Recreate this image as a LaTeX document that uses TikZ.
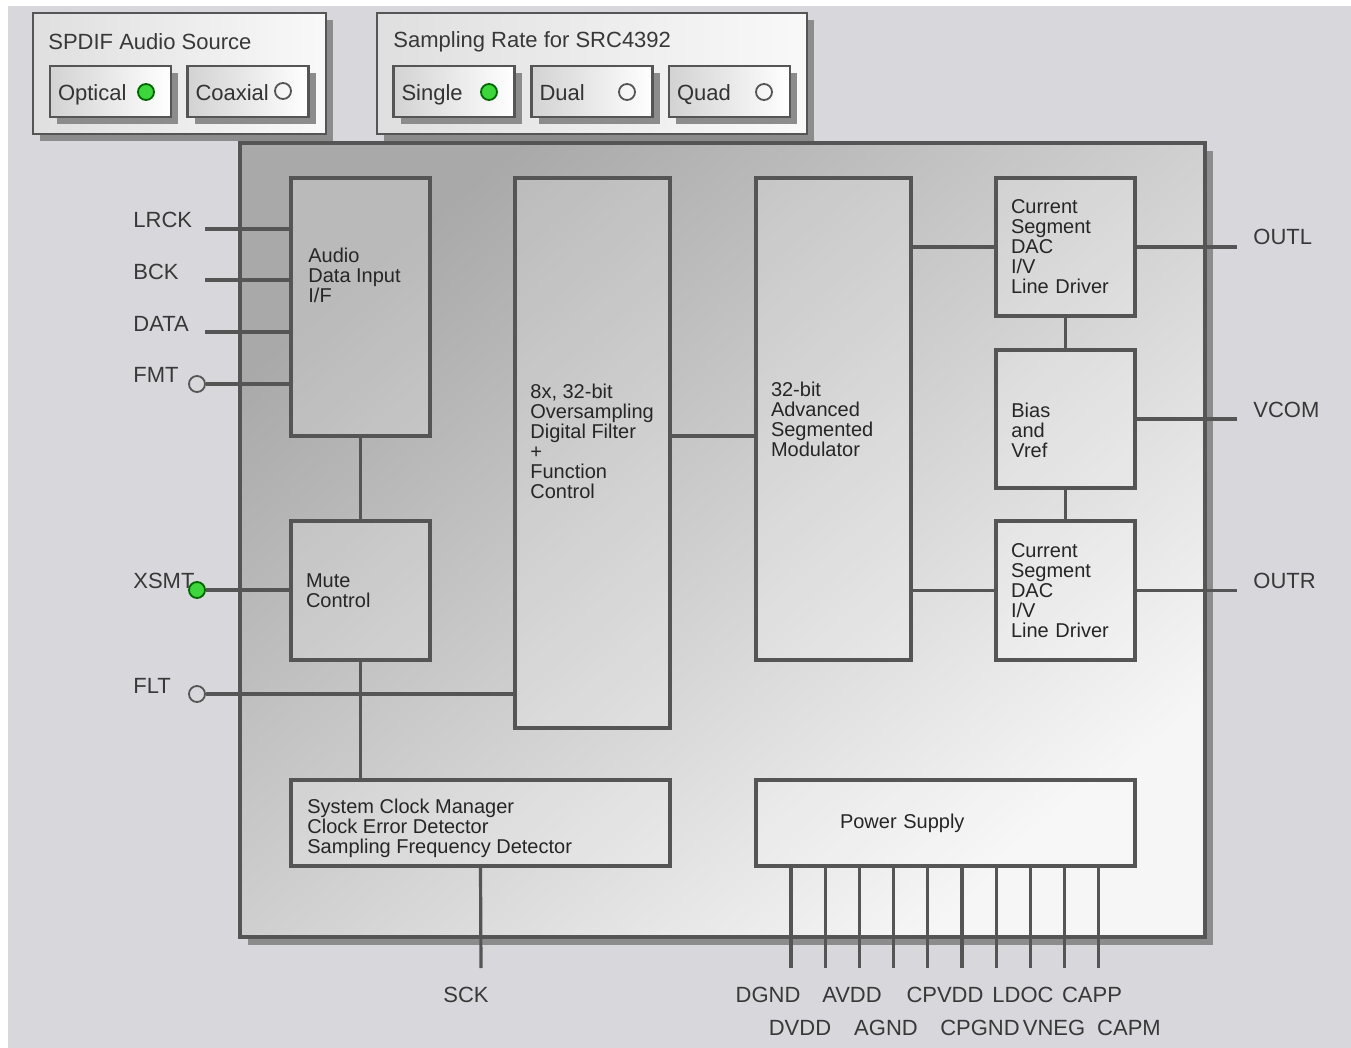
\documentclass[tikz,border=0pt]{standalone}
\usepackage{fontspec}
\setmainfont{Liberation Sans}
\usetikzlibrary{positioning,shadows}
\definecolor{bgray}{HTML}{D8D7DC}
\definecolor{wirec}{HTML}{555555}
\definecolor{ledon}{HTML}{3DD63D}
\definecolor{chipTL}{HTML}{A9A9A9}
\definecolor{chipBR}{HTML}{F6F6F6}

\begin{document}
\begin{tikzpicture}[x=0.5pt, y=-0.5pt,
		wire/.style={draw=wirec, line width=1.6pt},
		blk/.style={wire, fill=white, fill opacity=0.2, text opacity=1, text=black!85,
			align=left, inner xsep=7.5pt, font=\fontsize{10}{10}\selectfont},
		txt/.style={text=black!85, align=left, inner sep=0pt, font=\fontsize{10}{10}\selectfont},
		pin/.style={text=black!78, inner sep=0pt, font=\fontsize{11}{11}\selectfont},
		led/.style={circle, draw=wirec, line width=0.9pt, minimum size=8pt, inner sep=0pt, fill=bgray},
		ledon/.style={led, draw=green!40!black, fill=ledon},
		shd/.style={drop shadow={shadow xshift=3.5pt, shadow yshift=-3.5pt, fill=black!45, opacity=1}},
		panel/.style={wire, line width=1.3pt, left color=gray!25, right color=gray!5, shd},
		btn/.style={wire, line width=1.3pt, left color=gray!35, right color=white, shd,
			minimum height=25.5pt, text width=52.5pt, text height=10pt, text depth=1pt,
			inner xsep=4pt, align=left, text=black!80, font=\fontsize{11}{11}\selectfont}]
	\useasboundingbox (0,0) rectangle (1351,1048);
	\fill[white] (0,0) rectangle (1351,1048);
	\fill[bgray] (8,6) rectangle (1351,1048);

	% option panels
	\node[panel, minimum width=146.5pt, minimum height=60.5pt] (spdif) at (179.5,73.5) {};
	\node[pin, anchor=west] (spdiftitle) at (48,42) {SPDIF Audio Source};
	\node[btn, minimum width=60.5pt] (optical) at (110.5,91.5) {Optical};
	\node[btn, minimum width=60pt] (coaxial) at (248,91.5) {Coaxial};
	\node[ledon] (opticalled) at (146,92) {};
	\node[led, fill=none] (coaxialled) at (283,91) {};

	\node[panel, minimum width=215pt, minimum height=60.5pt] (rate) at (592,73.5) {};
	\node[pin, anchor=west] (ratetitle) at (393,42) {Sampling Rate for SRC4392};
	\node[btn, minimum width=60pt] (single) at (454,91.5) {Single};
	\node[btn, minimum width=60pt] (dual) at (592,91.5) {Dual};
	\node[btn, minimum width=60.5pt] (quad) at (729.5,91.5) {Quad};
	\node[ledon] (singleled) at (489,92) {};
	\node[led, fill=none] (dualled) at (627,92) {};
	\node[led, fill=none] (quadled) at (764,92) {};

	% chip
	\node[wire, minimum width=482.5pt, minimum height=397pt,
		top color=chipTL, bottom color=chipBR, shading angle=40,
		drop shadow={shadow xshift=4pt, shadow yshift=-4pt, fill=black!45, opacity=1}]
		(chip) at (722.5,540) {};

	% blocks
	\node[blk, minimum width=69.5pt, minimum height=129pt] (adi) at (360.5,307) {};
	\node[txt, anchor=north west] (aditxt) at (308,248) {Audio\\Data Input\\I/F};
	\node[blk, minimum width=69.5pt, minimum height=69.5pt, text width=54.5pt] (mute) at (360.5,590.5) {Mute\\Control};
	\node[blk, minimum width=77.5pt, minimum height=275pt] (filt) at (592.5,453) {};
	\node[txt, anchor=north west] (filttxt) at (530,384)
		{8x, 32-bit\\Oversampling\\Digital Filter\\+\\Function\\Control};
	\node[blk, minimum width=77.5pt, minimum height=241pt, text width=62.5pt] (mod) at (833.5,419)
		{32-bit\\Advanced\\Segmented\\Modulator};
	\node[blk, minimum width=69.5pt, minimum height=69pt, text width=54.5pt] (dacl) at (1065.5,247)
		{Current\\Segment\\DAC\\I/V\\Line Driver};
	\node[blk, minimum width=69.5pt, minimum height=69pt] (bias) at (1065.5,419) {};
	\node[txt, anchor=north west] (biastxt) at (1011,403) {Bias\\and\\Vref};
	\node[blk, minimum width=69.5pt, minimum height=69.5pt, text width=54.5pt] (dacr) at (1065.5,590.5)
		{Current\\Segment\\DAC\\I/V\\Line Driver};
	\node[blk, minimum width=189.5pt, minimum height=43pt] (clk) at (480.5,823) {};
	\node[txt, anchor=north west] (clktxt) at (307,799)
		{System Clock Manager\\Clock Error Detector\\Sampling Frequency Detector};
	\node[blk, minimum width=189.5pt, minimum height=43pt, inner xsep=42pt, text width=105.5pt] (pwr) at (945.5,823)
		{Power Supply};

	% input pins
	\node[pin, anchor=west] (lrcklbl) at (133,220) {LRCK};
	\node[pin, anchor=west] (bcklbl) at (133,272) {BCK};
	\node[pin, anchor=west] (datalbl) at (133,324) {DATA};
	\node[pin, anchor=west] (fmtlbl) at (133,375) {FMT};
	\node[pin, anchor=west] (xsmtlbl) at (133,581) {XSMT};
	\node[pin, anchor=west] (fltlbl) at (133,686) {FLT};
	\coordinate (lrck) at (205,229);
	\coordinate (bck) at (205,280);
	\coordinate (data) at (205,332);
	\node[led] (fmt) at (197,384) {};
	\node[ledon] (xsmt) at (197,590) {};
	\node[led] (flt) at (197,694) {};
	\draw[wire] (lrck) -- (lrck -| adi.west);
	\draw[wire] (bck) -- (bck -| adi.west);
	\draw[wire] (data) -- (data -| adi.west);
	\draw[wire] (fmt) -- (fmt -| adi.west);
	\draw[wire] (xsmt) -- (xsmt -| mute.west);
	\draw[wire] (flt) -- (flt -| filt.west);

	% internal
	\coordinate (mid) at (700,436);
	\draw[wire] (adi.south) -- (mute.north);
	\draw[wire] (mute.south) -- (mute.south |- clk.north);
	\draw[wire] (filt.east |- mid) -- (mod.west |- mid);
	\draw[wire] (mod.east |- dacl.west) -- (dacl.west);
	\draw[wire] (mod.east |- dacr.west) -- (dacr.west);
	\draw[wire] (dacl.south) -- (bias.north);
	\draw[wire] (bias.south) -- (dacr.north);

	% outputs
	\coordinate (outl) at (1237,247);
	\coordinate (vcom) at (1237,419);
	\coordinate (outr) at (1237,590.5);
	\draw[wire] (dacl.east) -- (outl);
	\draw[wire] (bias.east) -- (vcom);
	\draw[wire] (dacr.east) -- (outr);
	\node[pin, anchor=west] (outllbl) at (1253,237) {OUTL};
	\node[pin, anchor=west] (vcomlbl) at (1253,410) {VCOM};
	\node[pin, anchor=west] (outrlbl) at (1253,581) {OUTR};

	% clock and supply pins
	\coordinate (sck) at (481,968);
	\draw[wire] (clk.south) -- (sck);
	\node[pin] (scklbl) at (466,995) {SCK};
	\foreach \i in {0,...,9}{
		\coordinate (p\i) at ({791+34.2*\i},968);
		\draw[wire] (pwr.south -| p\i) -- (p\i);
	}
	\foreach \name/\x/\y in {DGND/768/995, AVDD/852/995, CPVDD/945/995, LDOC/1023/995, CAPP/1092/995,
		DVDD/800/1028, AGND/886/1028, CPGND/980/1028, VNEG/1054/1028, CAPM/1129/1028}
		\node[pin] (\name) at (\x,\y) {\name};
\end{tikzpicture}
\end{document}
